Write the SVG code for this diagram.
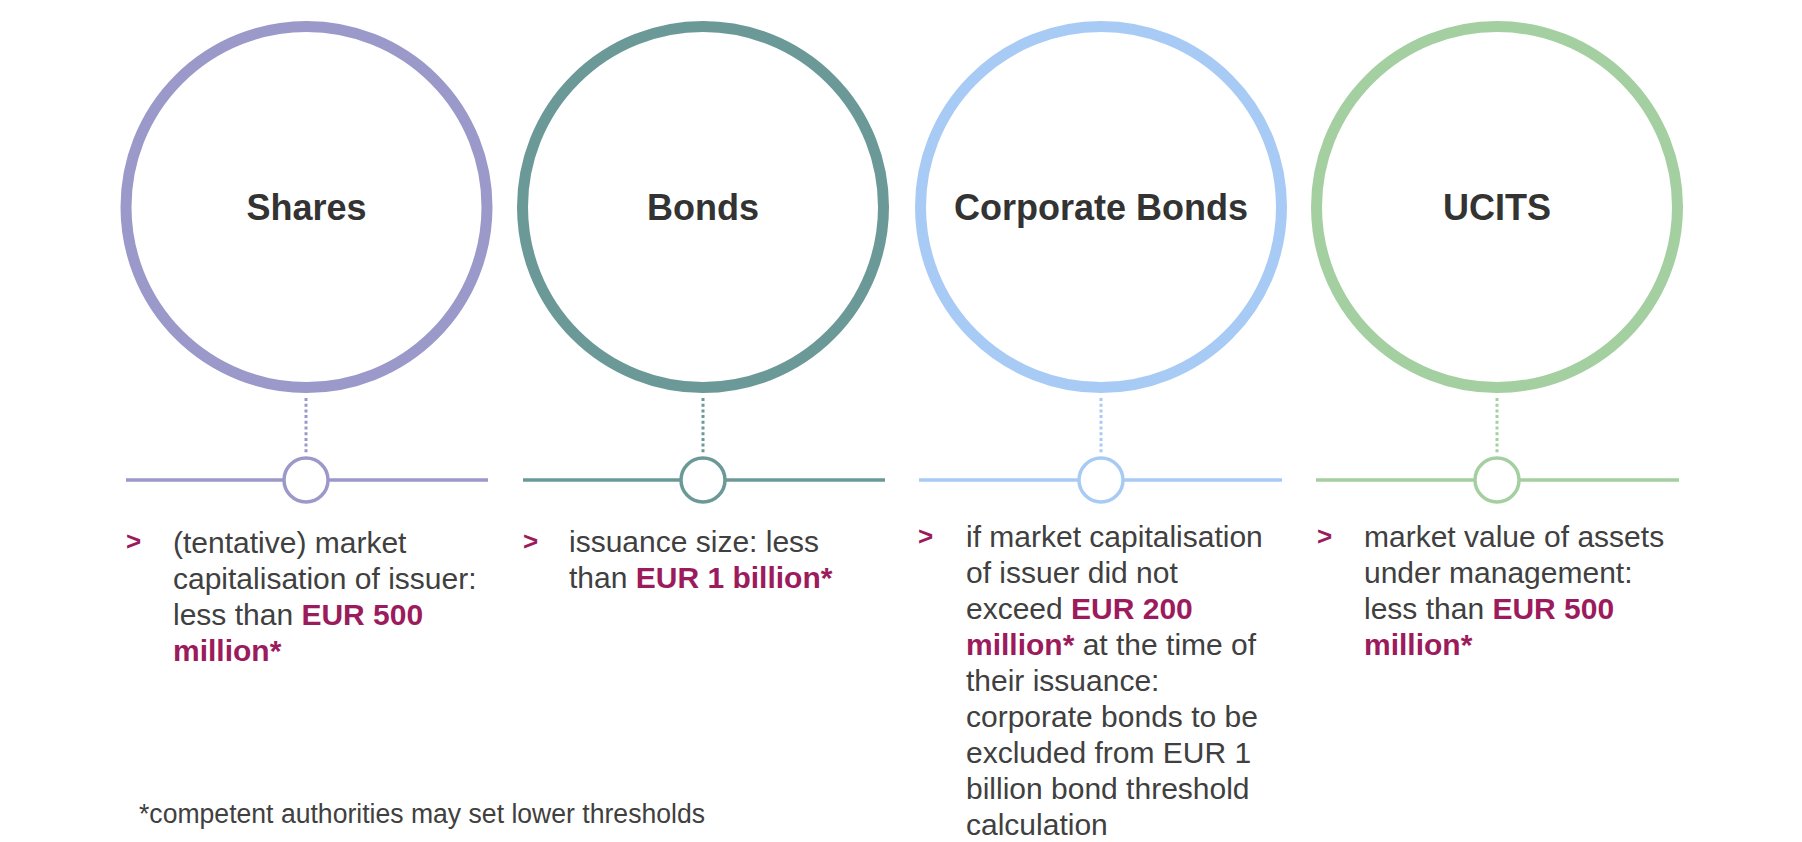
<svg xmlns="http://www.w3.org/2000/svg" width="1802" height="842" viewBox="0 0 1802 842">
<style>
.big{fill:none;stroke-width:11}
.small{fill:#fff;stroke-width:3.5}
.hline{stroke-width:3.5;fill:none}
.dots{stroke-width:3;stroke-dasharray:3 2.7;fill:none}
.title{font-family:"Liberation Sans",Arial,sans-serif;font-weight:bold;font-size:36px;fill:#333;text-anchor:middle}
.body{font-family:"Liberation Sans",Arial,sans-serif;font-size:30px;fill:#404040}
.em{font-weight:bold;fill:#9b1b5c}
.bullet{font-family:"Liberation Sans",Arial,sans-serif;font-size:26px;font-weight:bold;fill:#9b1b5c}
.foot{font-family:"Liberation Sans",Arial,sans-serif;font-size:27px;fill:#404040}
.c1{stroke:#9a99c9}.c2{stroke:#6b9997}.c3{stroke:#a8cbf5}.c4{stroke:#a4cfa1}
</style>
<rect width="1802" height="842" fill="#fff"/>
<g id="connectors">
<line class="dots c1" x1="306" y1="398" x2="306" y2="455"/>
<line class="dots c2" x1="703" y1="398" x2="703" y2="455"/>
<line class="dots c3" x1="1101" y1="398" x2="1101" y2="455"/>
<line class="dots c4" x1="1497" y1="398" x2="1497" y2="455"/>
<line class="hline c1" x1="126" y1="480" x2="488" y2="480"/>
<line class="hline c2" x1="523" y1="480" x2="885" y2="480"/>
<line class="hline c3" x1="919" y1="480" x2="1282" y2="480"/>
<line class="hline c4" x1="1316" y1="480" x2="1679" y2="480"/>
</g>
<g id="shares">
<circle class="big c1" cx="306.5" cy="207" r="180.5"/>
<text class="title" x="306.5" y="220">Shares</text>
<circle class="small c1" cx="306" cy="480" r="22"/>
<text class="bullet" x="126" y="550">&gt;</text>
<text class="body" x="173"><tspan x="173" y="553">(tentative) market</tspan><tspan x="173" y="589">capitalisation of issuer:</tspan><tspan x="173" y="625">less than <tspan class="em">EUR 500</tspan></tspan><tspan x="173" y="661" class="em">million*</tspan></text>
</g>
<g id="bonds">
<circle class="big c2" cx="703" cy="207" r="180.5"/>
<text class="title" x="703" y="220">Bonds</text>
<circle class="small c2" cx="703" cy="480" r="22"/>
<text class="bullet" x="523" y="550">&gt;</text>
<text class="body" x="569"><tspan x="569" y="552">issuance size: less</tspan><tspan x="569" y="588">than <tspan class="em">EUR 1 billion*</tspan></tspan></text>
</g>
<g id="corporate-bonds">
<circle class="big c3" cx="1101" cy="207" r="180.5"/>
<text class="title" x="1101" y="220">Corporate Bonds</text>
<circle class="small c3" cx="1101" cy="480" r="22"/>
<text class="bullet" x="918" y="545">&gt;</text>
<text class="body" x="966"><tspan x="966" y="547">if market capitalisation</tspan><tspan x="966" y="583">of issuer did not</tspan><tspan x="966" y="619">exceed <tspan class="em">EUR 200</tspan></tspan><tspan x="966" y="655"><tspan class="em">million*</tspan> at the time of</tspan><tspan x="966" y="691">their issuance:</tspan><tspan x="966" y="727">corporate bonds to be</tspan><tspan x="966" y="763">excluded from EUR 1</tspan><tspan x="966" y="799">billion bond threshold</tspan><tspan x="966" y="835">calculation</tspan></text>
</g>
<g id="ucits">
<circle class="big c4" cx="1497" cy="207" r="180.5"/>
<text class="title" x="1497" y="220">UCITS</text>
<circle class="small c4" cx="1497" cy="480" r="22"/>
<text class="bullet" x="1317" y="545">&gt;</text>
<text class="body" x="1364"><tspan x="1364" y="547">market value of assets</tspan><tspan x="1364" y="583">under management:</tspan><tspan x="1364" y="619">less than <tspan class="em">EUR 500</tspan></tspan><tspan x="1364" y="655" class="em">million*</tspan></text>
</g>
<g id="footnote">
<text class="foot" x="139" y="823" textLength="566" lengthAdjust="spacingAndGlyphs">*competent authorities may set lower thresholds</text>
</g>
</svg>
